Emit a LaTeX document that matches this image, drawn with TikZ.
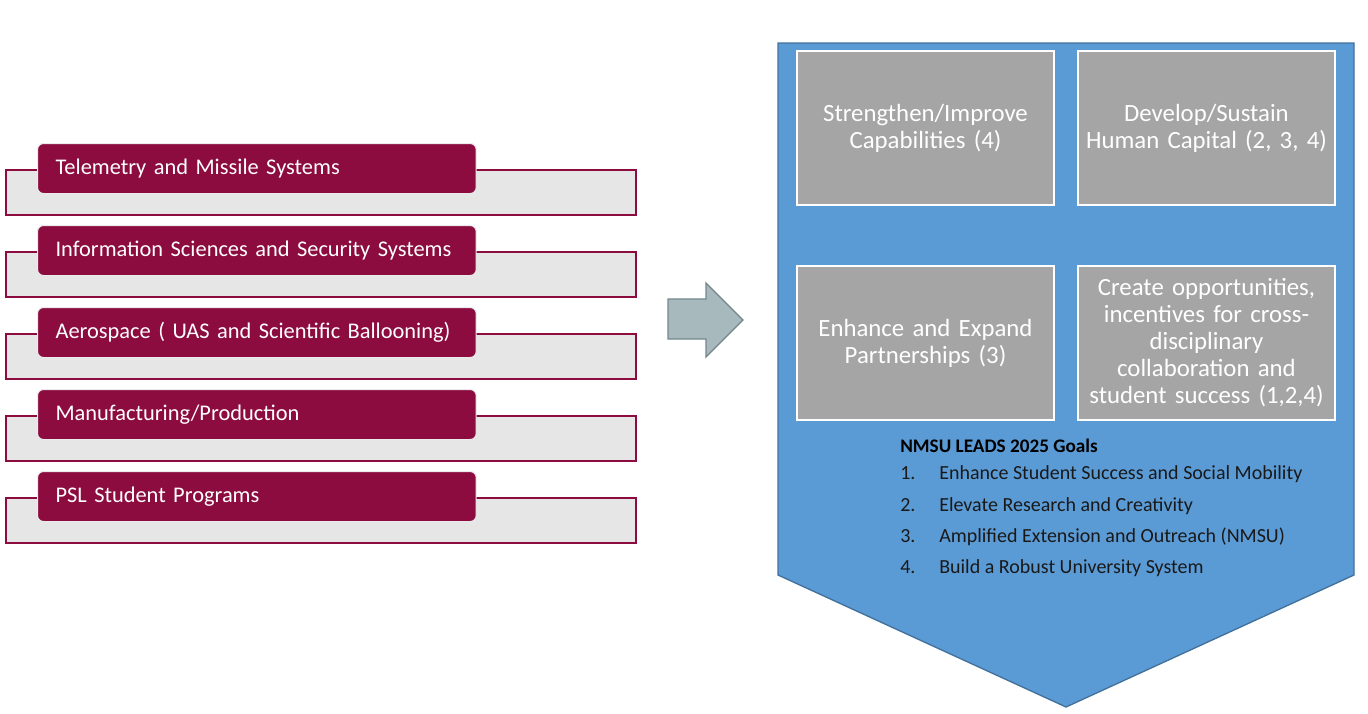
\documentclass[tikz,border=0pt]{standalone}
\usepackage{fontspec}
\setmainfont{Carlito}
\usetikzlibrary{positioning}
\definecolor{maroonc}{HTML}{8C0C3F}
\definecolor{backc}{HTML}{E7E6E6}
\definecolor{arrowfill}{HTML}{A7B9BD}
\definecolor{arrowline}{HTML}{72878C}
\definecolor{bluefill}{HTML}{5B9BD5}
\definecolor{blueline}{HTML}{41719C}
\definecolor{grayfill}{HTML}{A5A5A5}
\tikzset{
  backbox/.style={draw=maroonc, line width=1.3pt, fill=backc, minimum width=472.5pt, minimum height=33.75pt, inner sep=0pt, anchor=north west},
  frontbox/.style={draw=white!92!black, line width=0.8pt, fill=maroonc, rounded corners=4.5pt, text width=302pt, inner xsep=13.5pt, inner ysep=0pt, minimum height=37.5pt, align=left, text=white, font=\fontsize{16.8}{19}\selectfont, anchor=north west},
  goalbox/.style={draw=white, line width=1.5pt, fill=grayfill, minimum width=192.75pt, minimum height=115.5pt, text width=188pt, align=center, inner sep=0pt, text=white, font=\fontsize{18.6}{20.3}\selectfont, anchor=north west},
  goaltext/.style={anchor=base west, inner sep=0pt, text=black!90, font=\fontsize{15}{17}\selectfont},
}
\begin{document}
\begin{tikzpicture}[x=0.75pt,y=-0.75pt]
\useasboundingbox (0,0) rectangle (1368,714);
% left groups
\foreach \t [count=\i] in {Telemetry and Missile Systems, Information Sciences and Security Systems, {Aerospace ( UAS and Scientific Ballooning)}, Manufacturing/Production, PSL Student Programs} {
  \pgfmathsetmacro\yy{143+82*(\i-1)}
  \node[backbox] (back\i) at (5,\yy+26) {};
  \node[frontbox] (front\i) at (37,\yy) {\t};
}
% arrow
\draw[fill=arrowfill, draw=arrowline, line width=1pt]
  (668,299) -- (706,299) -- (706,283) -- (743,320) -- (706,357) -- (706,339) -- (668,339) -- cycle;
% big pentagon
\draw[fill=bluefill, draw=blueline, line width=1pt]
  (778,43) -- (1354,43) -- (1354,575) -- (1066,707) -- (778,575) -- cycle;
% gray boxes
\node[goalbox] (g1) at (796,50) {Strengthen/Improve\\Capabilities (4)};
\node[goalbox] (g2) at (1077,50) {Develop/Sustain\\Human Capital (2, 3, 4)};
\node[goalbox] (g3) at (796,265) {Enhance and Expand\\Partnerships (3)};
\node[goalbox] (g4) at (1077,265) {Create opportunities,\\incentives for cross-\\disciplinary\\collaboration and\\student success (1,2,4)};
% goals list
\node[goaltext, text=black, font=\fontsize{14.4}{17}\bfseries] (gt) at (900,452) {NMSU LEADS 2025 Goals};
\node[goaltext] (n1) at (900,479) {1.};
\node[goaltext] (l1) at (939,479) {Enhance Student Success and Social Mobility};
\node[goaltext] (n2) at (900,511) {2.};
\node[goaltext] (l2) at (939,511) {Elevate Research and Creativity};
\node[goaltext] (n3) at (900,542) {3.};
\node[goaltext] (l3) at (939,542) {Amplified Extension and Outreach (NMSU)};
\node[goaltext] (n4) at (900,573) {4.};
\node[goaltext] (l4) at (939,573) {Build a Robust University System};
\end{tikzpicture}
\end{document}
